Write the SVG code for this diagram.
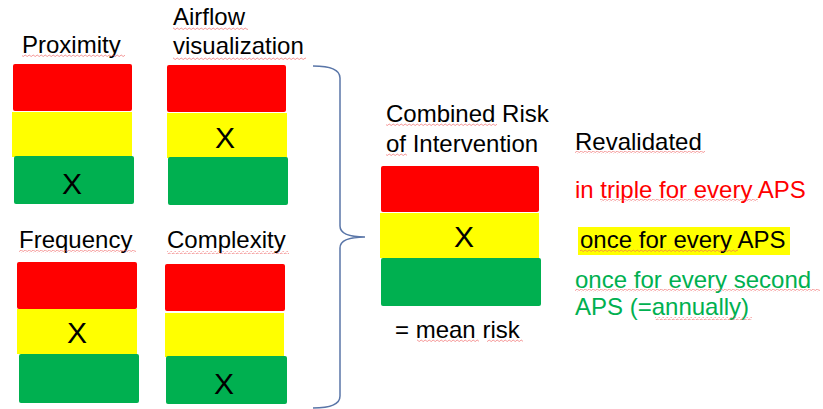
<svg xmlns="http://www.w3.org/2000/svg" width="823" height="409" viewBox="0 0 823 409">
<style>
text{font-family:"Liberation Sans",Arial,sans-serif;font-size:24px;fill:#000}
.x{font-size:30px;text-anchor:middle}
.r{fill:#FF0000}.y{fill:#FFFF00}.g{fill:#00B050}
.tr{fill:#FF0000}.tg{fill:#00B050}
.sq{fill:url(#squig)}
</style>
<defs>
<pattern id="squig" width="4" height="3" patternUnits="userSpaceOnUse">
<path d="M0,2.2 Q1,0 2,1.5 T4,2.2" fill="none" stroke="#EE5A5A" stroke-width="0.6"/>
</pattern>
</defs>
<rect width="823" height="409" fill="#fff"/>
<g id="proximity">
<text x="22" y="53">Proximity</text>
<rect class="sq" x="22" y="54" width="103" height="3"/>
<rect class="r" x="13" y="64" width="119" height="47" rx="2"/>
<rect class="y" x="12" y="112" width="120" height="45"/>
<rect class="g" x="14" y="156" width="120" height="48" rx="2"/>
<text class="x" x="72" y="194">X</text>
</g>
<g id="airflow">
<text x="173" y="25">Airflow</text>
<text x="173" y="54">visualization</text>
<rect class="sq" x="173" y="27" width="75" height="3"/>
<rect class="sq" x="173" y="57" width="133" height="3"/>
<rect class="r" x="167" y="65" width="119" height="47" rx="2"/>
<rect class="y" x="167" y="113" width="120" height="45"/>
<rect class="g" x="168" y="157" width="120" height="48" rx="2"/>
<text class="x" x="225" y="148">X</text>
</g>
<g id="frequency">
<text x="19" y="248">Frequency</text>
<rect class="sq" x="19" y="250" width="117" height="3"/>
<rect class="r" x="17" y="262" width="120" height="47" rx="2"/>
<rect class="y" x="17" y="309" width="120" height="45"/>
<rect class="g" x="19" y="354" width="120" height="49" rx="2"/>
<text class="x" x="77" y="343">X</text>
</g>
<g id="complexity">
<text x="167" y="248">Complexity</text>
<rect class="sq" x="167" y="251" width="122" height="3"/>
<rect class="r" x="165" y="264" width="120" height="47" rx="2"/>
<rect class="y" x="165" y="313" width="119" height="44"/>
<rect class="g" x="166" y="356" width="121" height="48" rx="2"/>
<text class="x" x="224" y="394">X</text>
</g>
<g id="connectors">
<path d="M313,66 Q340,66 340,78 L340,226 Q340,237 365,237 Q340,237 340,248 L340,396 Q340,408 313,408" fill="none" stroke="#5A76A8" stroke-width="1.5"/>
</g>
<g id="combined">
<text x="386" y="122">Combined Risk</text>
<text x="386" y="152">of Intervention</text>
<rect class="sq" x="386" y="123" width="111" height="3"/>
<rect class="sq" x="386" y="153" width="21" height="3"/>
<rect class="r" x="381" y="166" width="158" height="46" rx="2"/>
<rect class="y" x="380" y="213" width="159" height="45"/>
<rect class="g" x="381" y="258" width="160" height="48" rx="2"/>
<text class="x" x="464" y="247">X</text>
<text x="395" y="338">= mean risk</text>
<rect class="sq" x="417" y="339" width="62" height="3"/>
<rect class="sq" x="487" y="339" width="36" height="3"/>
</g>
<g id="revalidated">
<text x="575" y="150">Revalidated</text>
<rect class="sq" x="575" y="151" width="130" height="3"/>
<text class="tr" x="575" y="198">in triple for every APS</text>
<rect class="sq" x="600" y="199" width="158" height="3"/>
<rect fill="#FFFF00" x="578" y="227" width="212" height="28"/>
<text x="580" y="248">once for every APS</text>
<rect class="sq" x="580" y="249" width="158" height="3"/>
<text class="tg" x="575" y="288">once for every second</text>
<rect class="sq" x="575" y="289" width="245" height="3"/>
<text class="tg" x="575" y="315">APS (=annually)</text>
<rect class="sq" x="655" y="317" width="97" height="3"/>
</g>
</svg>
